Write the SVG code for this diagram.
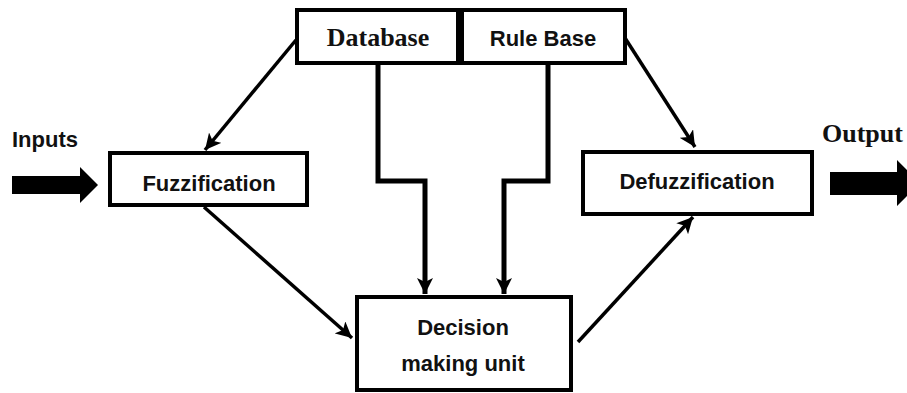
<svg xmlns="http://www.w3.org/2000/svg" width="907" height="393" viewBox="0 0 907 393">
<style>
.box{fill:#fff;stroke:#000;stroke-width:4}
.sans{font-family:"Liberation Sans",Arial,sans-serif;font-weight:bold;font-size:22px;fill:#111}
.serif{font-family:"Liberation Serif","Times New Roman",serif;font-weight:bold;font-size:26px;fill:#111}
.ln{fill:none;stroke:#000;stroke-width:3.5}
.el{fill:none;stroke:#000;stroke-width:5}
</style>
<defs>
<marker id="ah" markerUnits="userSpaceOnUse" markerWidth="18" markerHeight="16" refX="16" refY="8" orient="auto">
<path d="M0,0 L16,8 L0,16 L4,8 Z" fill="#000"/>
</marker>
</defs>
<g id="connectors">
<path class="ln" d="M296,40 L205,150" marker-end="url(#ah)"/>
<path class="ln" d="M625,38 L695,147" marker-end="url(#ah)"/>
<path class="ln" d="M204,207 L352,338" marker-end="url(#ah)"/>
<path class="ln" d="M578,342 L693,217" marker-end="url(#ah)"/>
<path class="el" d="M378,63 L378,181 L425,181 L425,294" marker-end="url(#ah)"/>
<path class="el" d="M548,63 L548,181 L504,181 L504,294" marker-end="url(#ah)"/>
<polygon points="12,176 80,176 80,167 98,185 80,203 80,194 12,194" fill="#000"/>
<polygon points="830,172 897,172 897,160 920,183 897,206 897,195 830,195" fill="#000"/>
</g>
<g id="database">
<rect class="box" x="297" y="10" width="161" height="53"/>
<text class="serif" x="378" y="46" text-anchor="middle">Database</text>
</g>
<g id="rulebase">
<rect class="box" x="462" y="10" width="163" height="53"/>
<text class="sans" x="543" y="46" text-anchor="middle">Rule Base</text>
</g>
<g id="fuzzification">
<rect class="box" x="110" y="153" width="197" height="52"/>
<text class="sans" x="209" y="191" text-anchor="middle">Fuzzification</text>
</g>
<g id="defuzzification">
<rect class="box" x="583" y="152" width="229" height="62"/>
<text class="sans" x="697" y="189" text-anchor="middle">Defuzzification</text>
</g>
<g id="decision">
<rect class="box" x="357" y="297" width="214" height="93"/>
<text class="sans" x="463" y="335" text-anchor="middle">Decision</text>
<text class="sans" x="463" y="371" text-anchor="middle">making unit</text>
</g>
<g id="labels">
<text class="sans" x="12" y="147">Inputs</text>
<text class="serif" x="822" y="142">Output</text>
</g>
</svg>
